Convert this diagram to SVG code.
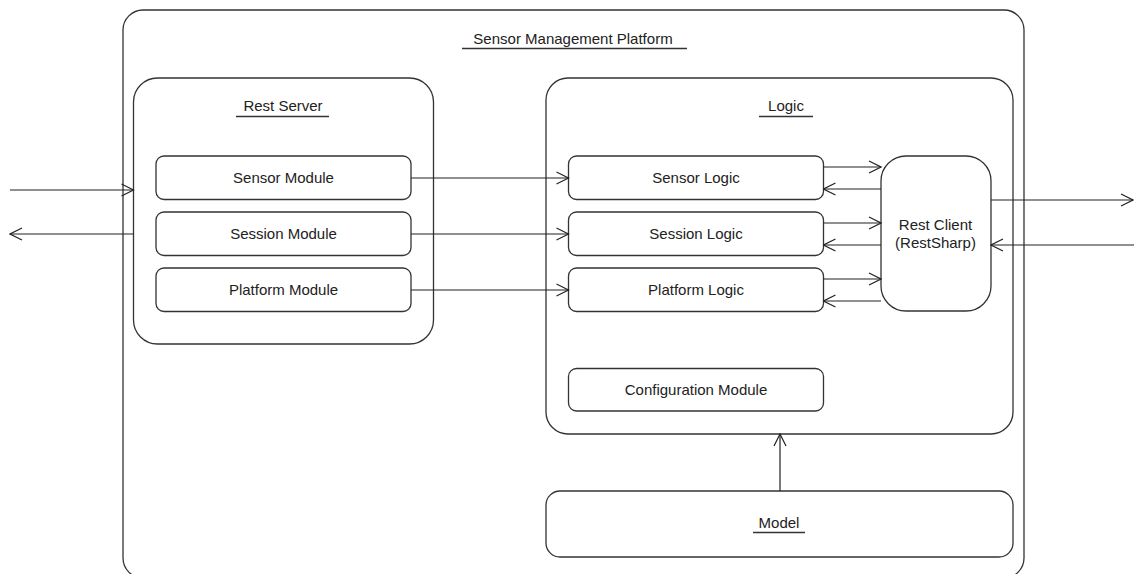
<svg xmlns="http://www.w3.org/2000/svg" width="1134" height="574" viewBox="0 0 1134 574">
  <style>
    .box { fill: #ffffff; stroke: #333333; stroke-width: 1.3; }
    .lbl { font-family: "Liberation Sans", Arial, sans-serif; font-size: 15px; fill: #222222; text-anchor: middle; }
    .ul { stroke: #333333; stroke-width: 1.3; }
    .edge { fill: none; stroke: #222222; stroke-width: 1.2; marker-end: url(#open); }
  </style>
  <defs>
    <marker id="open" markerUnits="userSpaceOnUse" markerWidth="14" markerHeight="14" refX="13" refY="7" orient="auto">
      <path d="M1,1 L13,7 L1,13" fill="none" stroke="#222222" stroke-width="1.2"/>
    </marker>
  </defs>

  <rect width="1134" height="574" fill="#ffffff"/>

  <!-- outer container -->
  <g id="platform">
    <rect class="box" x="123" y="10" width="901" height="568" rx="20" ry="20"/>
    <text class="lbl" x="573" y="44">Sensor Management Platform</text>
    <line class="ul" x1="462" y1="48.5" x2="687" y2="48.5"/>
  </g>

  <g id="rest-server">
    <rect class="box" x="133.5" y="78" width="300" height="266" rx="24" ry="24"/>
    <text class="lbl" x="283" y="111">Rest Server</text>
    <line class="ul" x1="236" y1="116.5" x2="329" y2="116.5"/>
  </g>

  <g id="sensor-module">
    <rect class="box" x="156" y="156" width="255" height="43.5" rx="8" ry="8"/>
    <text class="lbl" x="283.5" y="183">Sensor Module</text>
  </g>
  <g id="session-module">
    <rect class="box" x="156" y="212" width="255" height="43.5" rx="8" ry="8"/>
    <text class="lbl" x="283.5" y="239">Session Module</text>
  </g>
  <g id="platform-module">
    <rect class="box" x="156" y="268" width="255" height="43.5" rx="8" ry="8"/>
    <text class="lbl" x="283.5" y="295">Platform Module</text>
  </g>

  <g id="logic">
    <rect class="box" x="546" y="78" width="467" height="356" rx="22" ry="22"/>
    <text class="lbl" x="786" y="111">Logic</text>
    <line class="ul" x1="759" y1="116.5" x2="813" y2="116.5"/>
  </g>

  <g id="sensor-logic">
    <rect class="box" x="568.5" y="156" width="255" height="43.5" rx="8" ry="8"/>
    <text class="lbl" x="696" y="183">Sensor Logic</text>
  </g>
  <g id="session-logic">
    <rect class="box" x="568.5" y="212" width="255" height="43.5" rx="8" ry="8"/>
    <text class="lbl" x="696" y="239">Session Logic</text>
  </g>
  <g id="platform-logic">
    <rect class="box" x="568.5" y="268" width="255" height="43.5" rx="8" ry="8"/>
    <text class="lbl" x="696" y="295">Platform Logic</text>
  </g>

  <g id="configuration-module">
    <rect class="box" x="568.5" y="368.5" width="255" height="42.5" rx="8" ry="8"/>
    <text class="lbl" x="696" y="395">Configuration Module</text>
  </g>

  <g id="rest-client">
    <rect class="box" x="881" y="156" width="110" height="155" rx="25" ry="25"/>
    <text class="lbl" x="935.5" y="230">Rest Client</text>
    <text class="lbl" x="935.5" y="248">(RestSharp)</text>
  </g>

  <g id="model">
    <rect class="box" x="546" y="491" width="467" height="66" rx="14" ry="14"/>
    <text class="lbl" x="779" y="528">Model</text>
    <line class="ul" x1="753" y1="532.5" x2="805" y2="532.5"/>
  </g>

  <g id="connectors">
    <!-- external traffic into / out of the Rest Server -->
    <line class="edge" x1="10" y1="190" x2="133.5" y2="190"/>
    <line class="edge" x1="133.5" y1="234" x2="10" y2="234"/>

    <!-- modules to logic -->
    <line class="edge" x1="411" y1="178" x2="568.5" y2="178"/>
    <line class="edge" x1="411" y1="234" x2="568.5" y2="234"/>
    <line class="edge" x1="411" y1="290" x2="568.5" y2="290"/>

    <!-- logic <-> rest client -->
    <line class="edge" x1="823.5" y1="167" x2="881" y2="167"/>
    <line class="edge" x1="881" y1="189" x2="823.5" y2="189"/>
    <line class="edge" x1="823.5" y1="223" x2="881" y2="223"/>
    <line class="edge" x1="881" y1="245" x2="823.5" y2="245"/>
    <line class="edge" x1="823.5" y1="279" x2="881" y2="279"/>
    <line class="edge" x1="881" y1="301" x2="823.5" y2="301"/>

    <!-- rest client <-> outside -->
    <line class="edge" x1="991" y1="200" x2="1133" y2="200"/>
    <line class="edge" x1="1134" y1="245" x2="991" y2="245"/>

    <!-- model to logic -->
    <line class="edge" x1="780" y1="491" x2="780" y2="434"/>
  </g>
</svg>
